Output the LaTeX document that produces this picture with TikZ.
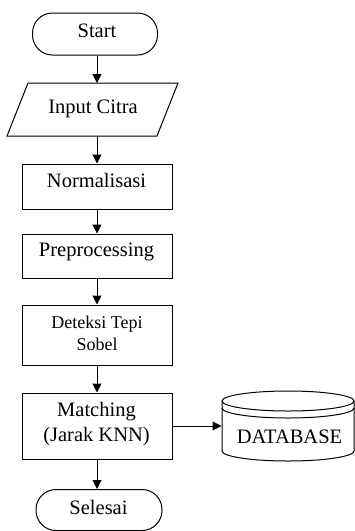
\documentclass[tikz,border=0pt]{standalone}
\usepackage{fontspec}
\setmainfont{Liberation Serif}
\usetikzlibrary{arrows.meta}
\begin{document}
\begin{tikzpicture}[x=1pt,y=-1pt,
  line width=1pt,
  proc/.style={draw, rectangle, minimum width=150pt, inner sep=0pt},
  term/.style={draw, rectangle, rounded corners=20pt, inner sep=0pt},
  txt/.style={anchor=base, inner sep=0pt, font=\fontsize{20.5pt}{24pt}\selectfont},
  smalltxt/.style={anchor=base, inner sep=0pt, font=\fontsize{18pt}{22pt}\selectfont},
  arr/.style={-{Triangle[length=9pt,width=9pt]}}
]
\useasboundingbox (0,0) rectangle (355,531);

% terminators
\node[term, minimum width=125pt, minimum height=42pt] (start) at (95,34) {};
\node[term, minimum width=126pt, minimum height=41pt] (end) at (99,510) {};

% input parallelogram
\draw (28,83) -- (178,83) -- (157,136) -- (7,136) -- cycle;
\coordinate (inTop) at (97,83);
\coordinate (inBot) at (97,136);

% process boxes
\node[proc, minimum height=45pt] (norm)  at (97,186.5) {};
\node[proc, minimum height=44pt] (prep)  at (97,256) {};
\node[proc, minimum height=60pt] (sobel) at (97,335) {};
\node[proc, minimum height=66pt] (match) at (97,426) {};

% database cylinder (y axis points down, so lower arcs run 180 -> 0)
\node[minimum width=132pt, minimum height=70pt, inner sep=0pt] (db) at (288,426) {};
\draw (288,401) ellipse [x radius=66, y radius=10];
\draw (222,408) arc[start angle=180, end angle=0, x radius=66, y radius=10];
\draw (222,401) -- (222,451)
      arc[start angle=180, end angle=0, x radius=66, y radius=10]
      -- (354,401);

% labels
\node[txt] (tStart) at (97,37) {Start};
\node[txt] (tIn)    at (93,113) {Input Citra};
\node[txt] (tNorm)  at (96.5,187) {Normalisasi};
\node[txt] (tPrep)  at (96.5,256) {Preprocessing};
\node[smalltxt] (tSob1) at (97,328) {Deteksi Tepi};
\node[smalltxt] (tSob2) at (97,350) {Sobel};
\node[txt] (tMat1) at (96.5,416) {Matching};
\node[txt] (tMat2) at (96.5,441) {(Jarak KNN)};
\node[txt] (tDb)   at (289.5,443) {DATABASE};
\node[txt] (tEnd)  at (98.5,514) {Selesai};

% connectors
\draw[arr] (start.south -| inTop) -- (inTop);
\draw[arr] (inBot) -- (norm.north);
\draw[arr] (norm) -- (prep);
\draw[arr] (prep) -- (sobel);
\draw[arr] (sobel) -- (match);
\draw[arr] (match.south) -- (match.south |- end.north);
\draw[arr] (match.east) -- (db.west);
\end{tikzpicture}
\end{document}
